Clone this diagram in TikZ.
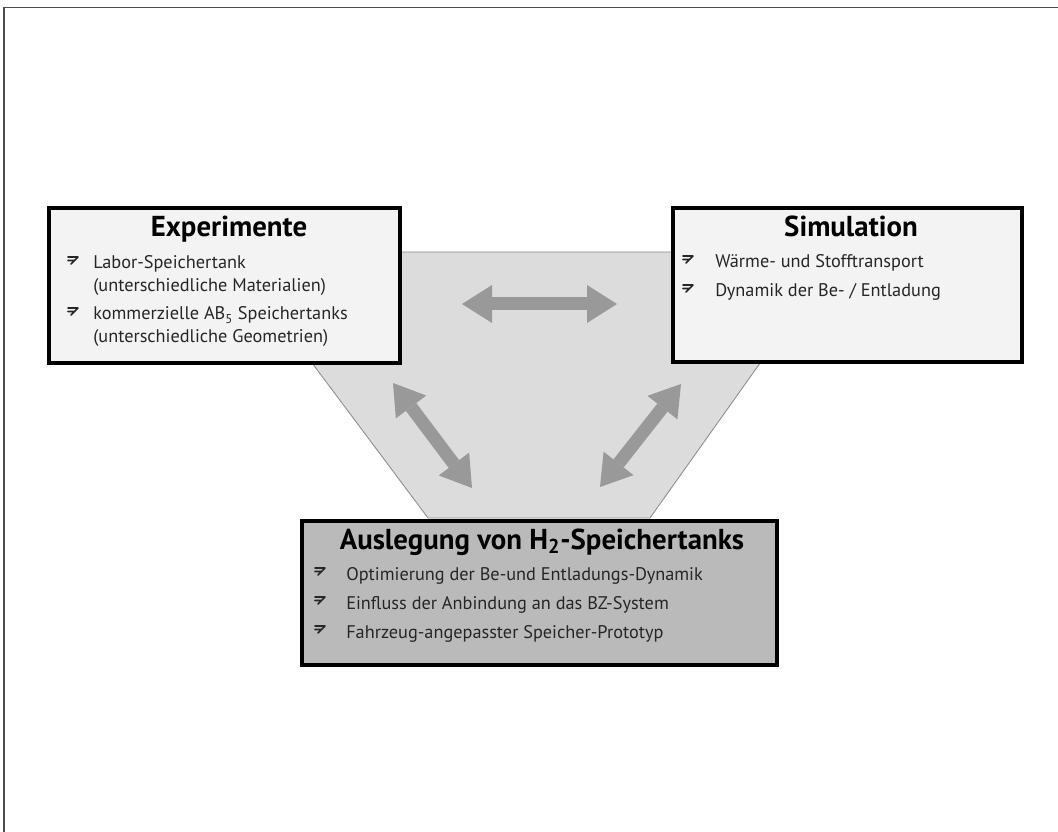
\documentclass[tikz,border=0pt]{standalone}
\usepackage{fontspec}
\setmainfont{PT Sans}
\usetikzlibrary{arrows.meta}
\definecolor{hellgrau}{HTML}{F3F3F3}
\definecolor{mittelgrau}{HTML}{BABABA}
\definecolor{flaeche}{HTML}{DCDCDC}
\definecolor{pfeilgrau}{HTML}{999999}
\tikzset{
  kasten/.style={draw=black, line width=2.5pt, inner sep=0pt, outer sep=0pt},
  titel/.style={anchor=base, inner sep=0pt, font=\fontsize{20.5}{24}\selectfont\bfseries},
  punkt/.style={anchor=base west, inner sep=0pt, text=black!85, font=\fontsize{13}{15}\selectfont},
  dpfeil/.style={draw=pfeilgrau, line width=0.325cm,
    {Triangle[width=0.95cm,length=0.75cm,line width=0pt]}-{Triangle[width=0.95cm,length=0.75cm,line width=0pt]}},
  pfeil/.pic={\draw[line width=1.1pt, black!85, line cap=round, line join=round]
    (0,-12) -- (10,-12) -- (3,-5) (0,-8.5) -- (6,-8.5);}
}
\begin{document}
\begin{tikzpicture}[x=0.025cm, y=-0.025cm]
  \useasboundingbox (0,0) rectangle (1058,832);
  % Rahmen
  \draw[line width=1.4pt, black!70] (4,832) |- (1058,7.5);
  % Hintergrundflaeche
  \draw[fill=flaeche, draw=black!45, line width=0.6pt]
    (229,252) -- (839,252) -- (650,518) -- (428,518) -- cycle;
  % Kaesten
  \node[kasten, fill=hellgrau, minimum width=8.775cm, minimum height=3.875cm] (exp) at (224.5,285.5) {};
  \node[kasten, fill=hellgrau, minimum width=8.725cm, minimum height=3.85cm] (sim) at (847.5,285) {};
  \node[kasten, fill=mittelgrau, minimum width=11.875cm, minimum height=3.6cm] (ausl) at (539.5,593) {};
  % Experimente
  \node[titel] (expt) at (229,237) {Experimente};
  \pic at (68,269) {pfeil};
  \node[punkt] (e1) at (93,269) {Labor-Speichertank};
  \node[punkt] (e2) at (93,292) {(unterschiedliche Materialien)};
  \pic at (68,320) {pfeil};
  \node[punkt] (e3) at (93,320) {kommerzielle AB\textsubscript{5} Speichertanks};
  \node[punkt] (e4) at (93,343) {(unterschiedliche Geometrien)};
  % Simulation
  \node[titel] (simt) at (851,237) {Simulation};
  \pic at (683,268) {pfeil};
  \node[punkt] (s1) at (715,268) {Wärme- und Stofftransport};
  \pic at (683,297) {pfeil};
  \node[punkt] (s2) at (715,297) {Dynamik der Be- / Entladung};
  % Auslegung
  \node[titel] (auslt) at (542,549) {Auslegung von H\textsubscript{2}-Speichertanks};
  \pic at (315,580) {pfeil};
  \node[punkt] (a1) at (346,580) {Optimierung der Be-und Entladungs-Dynamik};
  \pic at (315,609) {pfeil};
  \node[punkt] (a2) at (346,609) {Einfluss der Anbindung an das BZ-System};
  \pic at (315,638) {pfeil};
  \node[punkt] (a3) at (346,638) {Fahrzeug-angepasster Speicher-Prototyp};
  % Doppelpfeile
  \coordinate (h1) at (462,304);
  \coordinate (h2) at (617,304);
  \coordinate (l1) at (393,383);
  \coordinate (l2) at (472,488);
  \coordinate (r1) at (681,384);
  \coordinate (r2) at (600,487);
  \draw[dpfeil] (h1) -- (h2);
  \draw[dpfeil] (l1) -- (l2);
  \draw[dpfeil] (r1) -- (r2);
\end{tikzpicture}
\end{document}
